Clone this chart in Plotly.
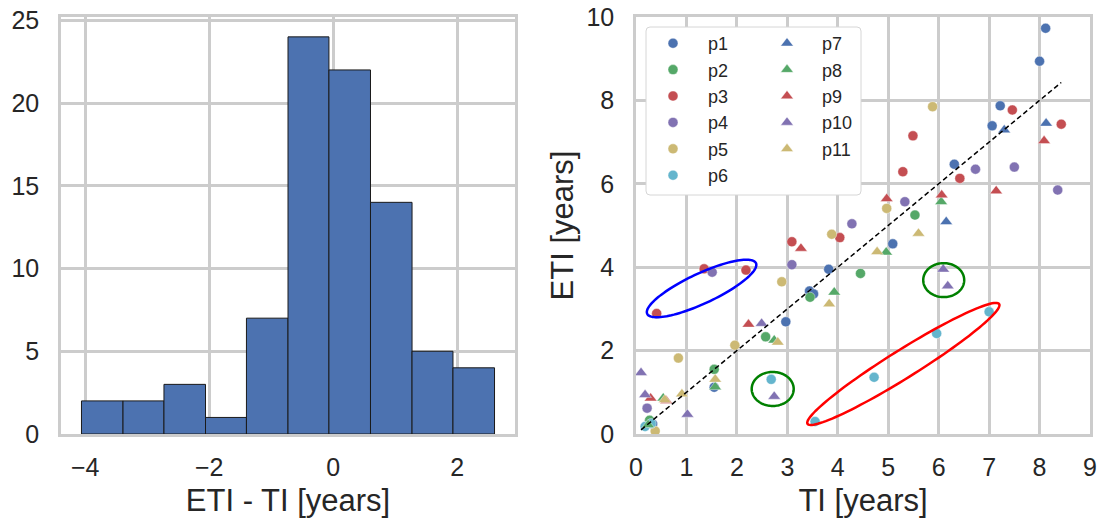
import numpy as np
import plotly.graph_objects as go

# ---------------- data ----------------
hist_edges = [-4.06, -3.39, -2.73, -2.06, -1.40, -0.73, -0.07, 0.60, 1.27, 1.93, 2.60]
hist_counts = [2, 2, 3, 1, 7, 24, 22, 14, 5, 4]

series_names = ["p1", "p2", "p3", "p4", "p5", "p6", "p7", "p8", "p9", "p10", "p11"]

p1_ti = [8.12, 8.00, 7.22, 7.06, 6.31, 5.09, 3.82, 3.44, 3.52, 2.97, 1.55, 0.33]
p1_eti = [9.73, 8.94, 7.87, 7.39, 6.47, 4.56, 3.95, 3.43, 3.36, 2.69, 1.12, 0.24]
p2_ti = [5.53, 4.45, 3.45, 2.57, 1.55, 0.27]
p2_eti = [5.25, 3.85, 3.28, 2.33, 1.55, 0.33]
p3_ti = [8.43, 7.46, 5.49, 5.29, 6.42, 3.09, 4.04, 2.18, 1.35, 0.41]
p3_eti = [7.43, 7.77, 7.15, 6.29, 6.13, 4.61, 4.71, 3.93, 3.96, 2.89]
p4_ti = [8.36, 7.50, 6.73, 5.33, 4.28, 3.09, 1.51, 0.22]
p4_eti = [5.85, 6.40, 6.35, 5.57, 5.04, 4.06, 3.88, 0.62]
p5_ti = [5.88, 4.97, 3.88, 2.89, 1.96, 0.84, 0.38]
p5_eti = [7.85, 5.41, 4.79, 3.65, 2.13, 1.82, 0.07]
p6_ti = [7.00, 5.96, 4.72, 3.55, 2.68, 0.18, 0.30]
p6_eti = [2.93, 2.41, 1.36, 0.30, 1.31, 0.18, 0.25]
p7_ti = [8.13, 7.30, 6.15]
p7_eti = [7.45, 7.29, 5.09]
p8_ti = [6.05, 4.96, 3.93, 2.74, 1.57, 0.54, 0.24]
p8_eti = [5.57, 4.36, 3.40, 2.25, 1.13, 0.86, 0.22]
p9_ti = [8.09, 7.14, 6.06, 4.97, 3.27, 2.23, 0.29, 0.60]
p9_eti = [7.03, 5.83, 5.73, 5.64, 4.45, 2.63, 0.86, 0.80]
p10_ti = [6.09, 6.18, 2.74, 2.49, 1.02, 0.10, 0.18]
p10_eti = [3.95, 3.55, 0.90, 2.65, 0.47, 1.47, 0.94]
p11_ti = [5.60, 4.78, 3.83, 2.81, 1.57, 0.91, 0.57]
p11_eti = [4.81, 4.37, 3.12, 2.20, 1.31, 0.96, 0.82]

ti_data = [p1_ti, p2_ti, p3_ti, p4_ti, p5_ti, p6_ti, p7_ti, p8_ti, p9_ti, p10_ti, p11_ti]
eti_data = [p1_eti, p2_eti, p3_eti, p4_eti, p5_eti, p6_eti, p7_eti, p8_eti, p9_eti, p10_eti, p11_eti]

hist_xticks = [-4, -2, 0, 2]
hist_xticklabels = ["\u22124", "\u22122", "0", "2"]
hist_yticks = [0, 5, 10, 15, 20, 25]
sc_xticks = list(range(0, 10))
sc_yticks = [0, 2, 4, 6, 8, 10]

# ---------------- style ----------------
W, H = 1109, 518
palette = ["#4C72B0", "#55A868", "#C44E52", "#8172B2", "#CCB974", "#64B5CD"]
TXT = "#262626"
GRID = "#cccccc"
FONT = "Liberation Sans, Arial, sans-serif"

# plot-area pixels
h_l, h_r = 61, 515
s_l, s_r = 636, 1090
p_t, p_b = 17, 434

fig = go.Figure()

# histogram
edges = np.array(hist_edges)
centers = (edges[:-1] + edges[1:]) / 2
widths = edges[1:] - edges[:-1]
fig.add_trace(go.Bar(x=centers, y=hist_counts, width=widths,
                     marker=dict(color="#4C72B0", line=dict(color="#1a1a1a", width=1)),
                     showlegend=False, xaxis="x", yaxis="y"))

# scatter series
for i, name in enumerate(series_names):
    if i < 6:
        sym, col, size, leg = "circle", palette[i], 10, "legend"
    else:
        sym, col, size, leg = "triangle-up", palette[(i - 6) % 5], 11, "legend2"
    fig.add_trace(go.Scatter(x=ti_data[i], y=eti_data[i], mode="markers", name=name,
                             marker=dict(symbol=sym, color=col, size=size,
                                         line=dict(color="white", width=0.4)),
                             xaxis="x2", yaxis="y2", legend=leg))

# diagonal
all_ti = np.concatenate([np.array(v) for v in ti_data])
lo, hi = all_ti.min(), all_ti.max()
fig.add_trace(go.Scatter(x=[lo, hi], y=[lo, hi], mode="lines",
                         line=dict(color="black", width=1.5, dash="5px,3px"),
                         showlegend=False, xaxis="x2", yaxis="y2"))

# ellipses (centre in data units, semi-axes in px, angle in deg)
sx = (s_r - s_l) / 9.0
sy = (p_b - p_t) / 10.0
ellipses = [
    dict(c=(1.30, 3.49), a=60, b=15, ang=25, color="blue"),
    dict(c=(2.71, 1.08), a=21, b=17, ang=0, color="green"),
    dict(c=(6.10, 3.69), a=20.5, b=17, ang=0, color="green"),
    dict(c=(5.30, 1.68), a=113, b=14, ang=32, color="red"),
]
t = np.linspace(0, 2 * np.pi, 120)
for e in ellipses:
    th = np.deg2rad(e["ang"])
    dx = e["a"] * np.cos(t) * np.cos(th) - e["b"] * np.sin(t) * np.sin(th)
    dy = e["a"] * np.cos(t) * np.sin(th) + e["b"] * np.sin(t) * np.cos(th)
    xs = e["c"][0] + dx / sx
    ys = e["c"][1] + dy / sy
    path = "M " + " L ".join(f"{x:.4f},{y:.4f}" for x, y in zip(xs, ys)) + " Z"
    fig.add_shape(type="path", path=path, xref="x2", yref="y2",
                  line=dict(color=e["color"], width=2.5), layer="above")

# legend frame
lx0, lx1, ly0, ly1, r = 646, 861, 27, 195, 4
def px(x): return x / W
def py(y): return 1 - y / H
frame = (f"M {px(lx0+r)},{py(ly0)} L {px(lx1-r)},{py(ly0)} Q {px(lx1)},{py(ly0)} {px(lx1)},{py(ly0+r)} "
         f"L {px(lx1)},{py(ly1-r)} Q {px(lx1)},{py(ly1)} {px(lx1-r)},{py(ly1)} "
         f"L {px(lx0+r)},{py(ly1)} Q {px(lx0)},{py(ly1)} {px(lx0)},{py(ly1-r)} "
         f"L {px(lx0)},{py(ly0+r)} Q {px(lx0)},{py(ly0)} {px(lx0+r)},{py(ly0)} Z")
fig.add_shape(type="path", path=frame, xref="paper", yref="paper",
              fillcolor="white", line=dict(color="#d6d6d6", width=1), layer="above")

ydom = [1 - p_b / H, 1 - p_t / H]
axis_common = dict(showgrid=True, gridcolor=GRID, gridwidth=2.5, showline=True, linecolor=GRID,
                   linewidth=2.5, mirror=True, ticks="", zeroline=False, automargin=False,
                   tickfont=dict(size=25, color=TXT, family=FONT))

fig.update_layout(
    template="none",
    width=W, height=H, margin=dict(l=0, r=0, t=0, b=0, autoexpand=False),
    paper_bgcolor="white", plot_bgcolor="white",
    font=dict(family=FONT, color=TXT),
    xaxis=dict(domain=[h_l / W, h_r / W], range=[-4.39, 2.93], tickvals=hist_xticks,
               ticktext=hist_xticklabels, anchor="y", ticklabelstandoff=9,
               title=dict(text="ETI - TI [years]", font=dict(size=31, color=TXT), standoff=22),
               **axis_common),
    yaxis=dict(domain=ydom, range=[0, 25.2], tickvals=hist_yticks, anchor="x",
               ticklabelstandoff=14, **axis_common),
    xaxis2=dict(domain=[s_l / W, s_r / W], range=[0, 9], tickvals=sc_xticks, anchor="y2",
                ticklabelstandoff=9,
                title=dict(text="TI [years]", font=dict(size=31, color=TXT), standoff=22),
                **axis_common),
    yaxis2=dict(domain=ydom, range=[0, 10], tickvals=sc_yticks, anchor="x2",
                ticklabelstandoff=14,
                title=dict(text="ETI [years]", font=dict(size=31, color=TXT), standoff=4),
                **axis_common),
    legend=dict(x=638 / W, y=1 - 25 / H, xanchor="left", yanchor="top", bgcolor="rgba(0,0,0,0)",
                borderwidth=0, itemwidth=60, font=dict(size=18, color=TXT, family=FONT)),
    legend2=dict(x=752 / W, y=1 - 25 / H, xanchor="left", yanchor="top", bgcolor="rgba(0,0,0,0)",
                 borderwidth=0, itemwidth=60, font=dict(size=18, color=TXT, family=FONT)),
)

fig.write_html("out.html")
